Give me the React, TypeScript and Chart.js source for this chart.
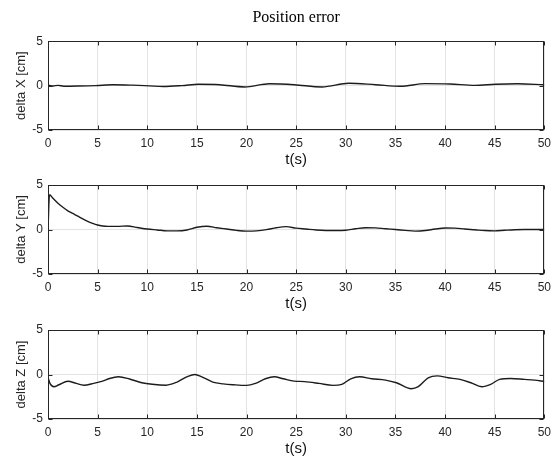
import React, { useEffect, useRef } from "react";
import { Chart, registerables } from "chart.js";

Chart.register(...registerables);

// ---- Data ----
const xTicks = [0, 5, 10, 15, 20, 25, 30, 35, 40, 45, 50];
const yTicks = [-5, 0, 5];

const timeX = [0, 0.5, 1, 1.6, 3, 4.8, 6.6, 8.5, 10.2, 11.6, 13.5, 15.2, 17.3, 19.8, 22.3, 24.8, 27.6, 30.3, 33, 35.5, 38, 40.5, 43, 45.1, 47.3, 50];
const deltaX = [0.05, -0.05, 0.03, -0.07, -0.05, 0, 0.1, 0.05, -0.03, -0.1, 0, 0.15, 0.1, -0.15, 0.2, 0.1, -0.15, 0.26, 0.1, -0.07, 0.22, 0.18, 0.03, 0.15, 0.2, 0.1];

const timeY = [0, 0.15, 0.5, 1, 1.5, 2, 2.5, 3, 3.5, 4, 4.5, 5, 5.5, 6, 7, 8, 9, 10, 11, 12, 13, 14, 15, 16, 17, 18, 19, 20, 21, 22, 23, 24, 25, 26, 27, 28, 29, 30, 31, 32, 33, 34, 35, 36, 37, 38, 39, 40, 41, 42, 43, 44, 45, 46, 47, 48, 49, 50];
const deltaY = [0, 3.9, 3.5, 2.95, 2.5, 2.1, 1.8, 1.5, 1.2, 0.92, 0.68, 0.5, 0.4, 0.35, 0.35, 0.4, 0.22, 0.05, -0.05, -0.15, -0.15, -0.05, 0.25, 0.37, 0.2, 0.05, -0.1, -0.18, -0.15, -0.02, 0.2, 0.32, 0.15, 0.05, -0.05, -0.11, -0.12, -0.08, 0.08, 0.2, 0.18, 0.08, 0, -0.1, -0.18, -0.12, 0.05, 0.17, 0.16, 0.05, -0.03, -0.12, -0.15, -0.08, -0.02, 0, 0, 0];

const timeZ = [0, 0.2, 0.6, 1.1, 2.0, 2.85, 3.6, 4.6, 5.5, 6.2, 7.1, 8.2, 9.45, 10.5, 11.9, 13.0, 14.1, 14.8, 15.5, 16.6, 17.65, 18.7, 20.0, 20.9, 21.9, 22.8, 23.7, 24.8, 25.85, 27.3, 28.7, 29.6, 30.5, 31.4, 32.6, 34.0, 35.1, 36.6, 37.3, 38.3, 39.2, 40.3, 41.5, 42.6, 43.7, 44.6, 45.5, 46.6, 48.0, 49.0, 50];
const deltaZ = [-0.3, -1.0, -1.38, -1.15, -0.75, -1.0, -1.2, -1.0, -0.75, -0.45, -0.26, -0.5, -0.93, -1.1, -1.2, -0.85, -0.2, 0.0, -0.26, -0.85, -1.05, -1.15, -1.22, -1.0, -0.48, -0.26, -0.48, -0.74, -0.8, -1.0, -1.22, -1.1, -0.48, -0.26, -0.48, -0.63, -0.93, -1.6, -1.37, -0.37, -0.15, -0.37, -0.55, -0.93, -1.37, -1.1, -0.55, -0.45, -0.55, -0.63, -0.78];

const TITLE = "Position error";
const X_LABEL = "t(s)";

const SANS = 'Arial, "Liberation Sans", sans-serif';
const SERIF = '"Times New Roman", "Liberation Serif", serif';
const AXIS_COLOR = "#262626";
const GRID_COLOR = "#e3e3e3";

const boxPlugin = {
  id: "matlabBox",
  afterDraw(chart: any) {
    const { ctx, chartArea, scales } = chart;
    const { left, right, top, bottom } = chartArea;
    const x = scales.x;
    const y = scales.y;
    const L = Math.round(left) + 0.5;
    const R = Math.round(right) - 0.5;
    const T = Math.round(top) + 0.5;
    const B = Math.round(bottom) - 0.5;
    const tl = 4;
    ctx.save();
    ctx.strokeStyle = AXIS_COLOR;
    ctx.lineWidth = 1;
    ctx.beginPath();
    xTicks.forEach((v) => {
      const px = Math.round(x.getPixelForValue(v)) + 0.5;
      ctx.moveTo(px, B);
      ctx.lineTo(px, B - tl);
      ctx.moveTo(px, T);
      ctx.lineTo(px, T + tl);
    });
    yTicks.forEach((v) => {
      const py = Math.round(y.getPixelForValue(v)) + 0.5;
      ctx.moveTo(L, py);
      ctx.lineTo(L + tl, py);
      ctx.moveTo(R, py);
      ctx.lineTo(R - tl, py);
    });
    ctx.stroke();
    ctx.strokeRect(L, T, R - L, B - T);
    ctx.restore();
  },
};

type PanelProps = {
  times: number[];
  values: number[];
  yLabel: string;
  top: number;
  height: number;
  padTop: number;
  title?: string;
};

function Panel({ times, values, yLabel, top, height, padTop, title }: PanelProps) {
  const ref = useRef<HTMLCanvasElement | null>(null);
  useEffect(() => {
    if (!ref.current) return;
    const chart = new Chart(ref.current, {
      type: "line",
      data: {
        datasets: [
          {
            data: times.map((t, i) => ({ x: t, y: values[i] })),
            borderColor: "#1c1c1c",
            borderWidth: 1.4,
            pointRadius: 0,
            tension: 0.4,
            cubicInterpolationMode: "monotone",
            fill: false,
          },
        ],
      },
      options: {
        responsive: false,
        animation: false,
        devicePixelRatio: 1,
        layout: { padding: { top: padTop, right: 11, left: 0, bottom: 0 } },
        plugins: {
          legend: { display: false },
          tooltip: { enabled: false },
          title: {
            display: !!title,
            text: title || "",
            fullSize: false,
            color: "#000",
            font: { family: SERIF, size: 16, weight: "normal" },
            padding: { top: 8, bottom: 14 },
          },
        },
        scales: {
          x: {
            type: "linear",
            min: 0,
            max: 50,
            afterBuildTicks: (s: any) => {
              s.ticks = xTicks.map((v) => ({ value: v }));
            },
            ticks: {
              color: AXIS_COLOR,
              font: { family: SANS, size: 12 },
              padding: 6,
              maxRotation: 0,
              autoSkip: false,
            },
            grid: { color: GRID_COLOR, drawTicks: false, lineWidth: 1 },
            border: { display: false },
            title: {
              display: true,
              text: X_LABEL,
              color: "#111",
              font: { family: SANS, size: 15 },
              padding: { top: 0, bottom: 0 },
            },
            afterFit: (s: any) => {
              s.height = 39;
            },
          },
          y: {
            type: "linear",
            min: -5,
            max: 5,
            afterBuildTicks: (s: any) => {
              s.ticks = yTicks.map((v) => ({ value: v }));
            },
            ticks: {
              color: AXIS_COLOR,
              font: { family: SANS, size: 12 },
              padding: 5,
            },
            grid: { color: GRID_COLOR, drawTicks: false, lineWidth: 1 },
            border: { display: false },
            title: {
              display: true,
              text: yLabel,
              color: AXIS_COLOR,
              font: { family: SANS, size: 13 },
              padding: { top: 14, bottom: 0 },
            },
            afterFit: (s: any) => {
              s.width = 48;
            },
          },
        },
      } as any,
      plugins: [boxPlugin],
    });
    return () => chart.destroy();
  }, [times, values, yLabel, padTop, title]);

  return (
    <canvas
      ref={ref}
      width={557}
      height={height}
      style={{ position: "absolute", left: 0, top, width: 557, height }}
    />
  );
}

export default function App() {
  return (
    <div style={{ position: "absolute", left: 0, top: 0, width: 557, height: 460, background: "#fff" }}>
      <Panel times={timeX} values={deltaX} yLabel="delta X [cm]" top={0} height={169} padTop={0} title={TITLE} />
      <Panel times={timeY} values={deltaY} yLabel="delta Y [cm]" top={169} height={144} padTop={16} />
      <Panel times={timeZ} values={deltaZ} yLabel="delta Z [cm]" top={313} height={145} padTop={17} />
    </div>
  );
}
